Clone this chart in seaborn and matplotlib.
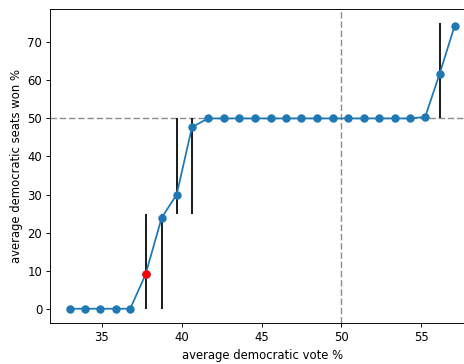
import matplotlib
matplotlib.use("Agg")
import matplotlib.pyplot as plt
import seaborn as sns
import pandas as pd

vote = [32.97, 33.95, 34.9, 35.85, 36.77, 37.73, 38.74, 39.68, 40.64, 41.64,
        42.62, 43.6, 44.56, 45.56, 46.5, 47.5, 48.5, 49.48, 50.44, 51.4,
        52.37, 53.33, 54.3, 55.25, 56.15, 57.1]
seats = [0, 0, 0, 0, 0, 9, 23.9, 30, 47.7, 50,
         50, 50, 50, 50, 50, 50, 50, 50, 50, 50,
         50, 50, 50, 50.4, 61.7, 74.4]

bar_x = [37.73, 38.74, 39.68, 40.64, 56.15]
bar_lo = [0, 0, 25, 25, 50]
bar_hi = [25, 25, 50, 50, 75]

highlight_x = [37.73]
highlight_y = [9]

df = pd.DataFrame({"vote": vote, "seats": seats})

DPI = 84
fig = plt.figure(figsize=(464 / DPI, 364 / DPI), dpi=DPI)
ax = fig.add_axes([50.3 / 464, 41 / 364, (474 - 50.3) / 464, 314 / 364])

ax.axhline(50, color="#8c8c8c", linestyle=(0, (4.6, 2.0)), linewidth=1.2, zorder=1)
ax.axvline(50, color="#8c8c8c", linestyle=(0, (4.6, 2.0)), linewidth=1.2, zorder=1)
ax.vlines(bar_x, bar_lo, bar_hi, color="black", linewidth=1.5, zorder=2)
sns.lineplot(data=df, x="vote", y="seats", marker="o", markersize=6.2,
             color="#1f77b4", markeredgecolor="#1f77b4", markeredgewidth=1,
             linewidth=1.5, ax=ax, zorder=3)
ax.plot(highlight_x, highlight_y, "o", color="red", markersize=6.2,
        markeredgewidth=1, zorder=4)

ax.set_xticks([35, 40, 45, 50, 55])
ax.set_yticks([0, 10, 20, 30, 40, 50, 60, 70])
ax.set_xlabel("average democratic vote %")
ax.set_ylabel("average democratic seats won %")

fig.savefig("out.png", dpi=DPI)
